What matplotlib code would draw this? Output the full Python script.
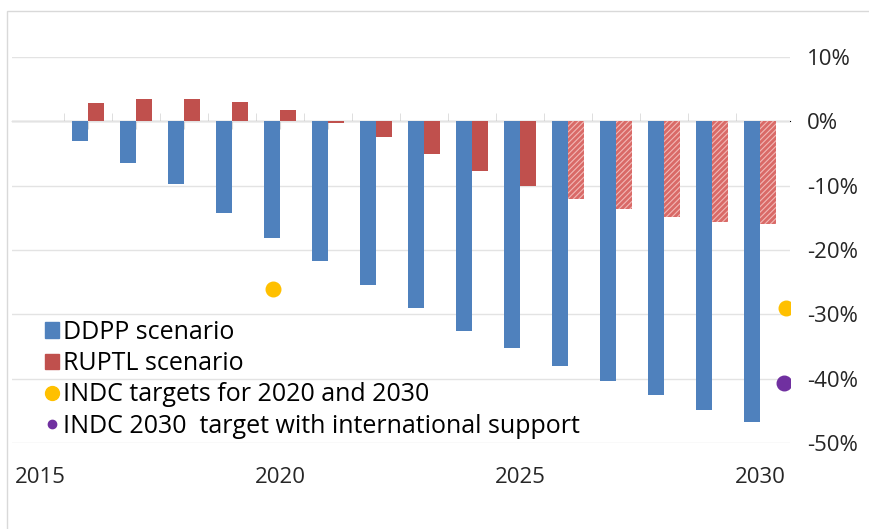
import matplotlib.pyplot as plt
import matplotlib.patches as mpatches
from matplotlib.lines import Line2D
from matplotlib.ticker import FuncFormatter, FixedLocator, NullFormatter

plt.rcParams['font.family'] = ['Open Sans', 'DejaVu Sans']
plt.rcParams['hatch.linewidth'] = 0.8

years = list(range(2016, 2031))
ddpp = [-3.1, -6.4, -9.8, -14.3, -18.1, -21.7, -25.4, -29.0, -32.6, -35.3,
        -38.0, -40.3, -42.6, -44.8, -46.8]
ruptl = [2.9, 3.5, 3.4, 3.0, 1.7, -0.2, -2.4, -5.1, -7.7, -10.1,
         -12.0, -13.6, -14.9, -15.7, -16.0]
ruptl_projected_from = 2026

indc_x = [2019.85, 2030.55]
indc_y = [-26, -29]
intl_x = [2030.5]
intl_y = [-40.6]

year_ticks = [2015, 2020, 2025, 2030]

blue = '#4f81bd'
red = '#c0504d'
gold = '#ffc000'
purple = '#7030a0'
grid_c = '#e3e3e3'

fig = plt.figure(figsize=(8.69, 5.29), dpi=100)
fig.patches.append(mpatches.Rectangle((7 / 869, -0.1), 1.2, 1 - 11 / 529 + 0.1,
                                      transform=fig.transFigure, fill=False,
                                      edgecolor='#d9d9d9', linewidth=1))
ax = fig.add_axes([12 / 869, 1 - 443 / 529, (790 - 12) / 869, (443 - 57) / 529])

w = 1 / 3
for yr, d, r in zip(years, ddpp, ruptl):
    ax.bar(yr - w / 2, d, width=w, color=blue, zorder=3)
    if yr >= ruptl_projected_from:
        ax.bar(yr + w / 2, r, width=w, facecolor='#d96a67', edgecolor='#f2b8b6',
               hatch='//////', linewidth=0, zorder=3)
    else:
        ax.bar(yr + w / 2, r, width=w, color=red, zorder=3)

ax.scatter(indc_x, indc_y, s=110, color=gold, zorder=4)
ax.scatter(intl_x, intl_y, s=110, color=purple, zorder=4)

ymin, ymax = -50, 10
ax.set_xlim(2014.42, 2030.625)
ax.set_ylim(ymin, ymax)

ax.yaxis.tick_right()
ax.set_yticks(range(-50, 11, 10))
ax.yaxis.set_major_formatter(FuncFormatter(lambda v, p: f'{v:.0f}%'))
ax.tick_params(axis='y', length=0, pad=12, labelsize=16, labelcolor='#262626')
ax.grid(axis='y', color=grid_c, linewidth=1, zorder=0)

ax.set_xticks(year_ticks)
ax.tick_params(axis='x', length=0, pad=17, labelsize=16, labelcolor='#262626')

for s in ['left', 'right', 'bottom', 'top']:
    ax.spines[s].set_visible(False)

# zero line with its small category ticks
sec = ax.secondary_xaxis((0 - ymin) / (ymax - ymin))
sec.spines['bottom'].set_color('#d9d9d9')
sec.spines['bottom'].set_zorder(1)
sec.xaxis.set_major_locator(FixedLocator(years))
sec.xaxis.set_minor_locator(FixedLocator([y + 0.5 for y in range(2015, 2030)]))
sec.xaxis.set_major_formatter(NullFormatter())
sec.tick_params(which='major', direction='in', length=6, color='#d9d9d9')
sec.tick_params(which='minor', direction='out', length=6, color='#d9d9d9')

handles = [
    mpatches.Patch(color=blue),
    mpatches.Patch(color=red),
    Line2D([], [], marker='o', linestyle='none', color=gold, markersize=10),
    Line2D([], [], marker='o', linestyle='none', color=purple, markersize=6),
]
labels = ['DDPP scenario', 'RUPTL scenario', 'INDC targets for 2020 and 2030',
          'INDC 2030  target with international support']
ax.legend(handles, labels, loc='upper left', bbox_to_anchor=(0.03, 0.345),
          frameon=False, fontsize=18, handlelength=0.55, handleheight=0.55,
          handletextpad=0.15, labelspacing=0.25, borderaxespad=0)

fig.savefig('out.png', dpi=100)
